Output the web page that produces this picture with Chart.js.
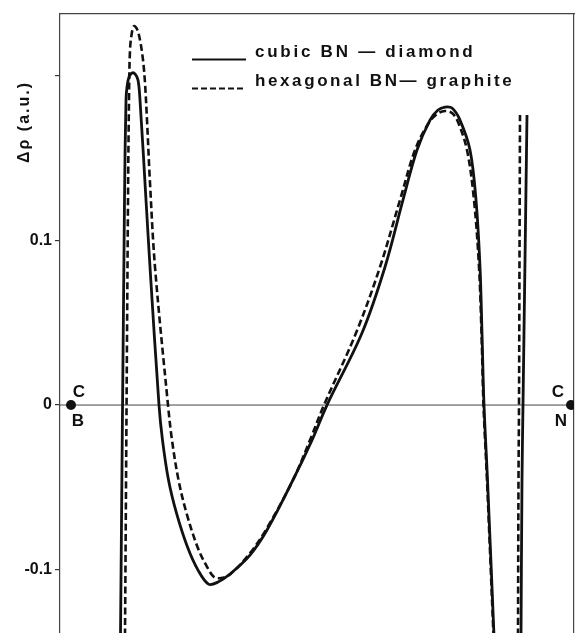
<!DOCTYPE html>
<html>
<head>
<meta charset="utf-8">
<script src="https://cdn.jsdelivr.net/npm/chart.js@4/dist/chart.umd.min.js"></script>
<style>
  html, body { margin: 0; padding: 0; background: #fff; }
  #wrap { width: 577px; height: 633px; }
</style>
</head>
<body>
<div id="wrap"><canvas id="c" width="577" height="633"></canvas></div>
<script>
// ---- data (x: position along the bond B ... N, 0 = B site, 1 = N site) ----
const cubicX = [0.099, 0.107, 0.110, 0.112, 0.116, 0.122, 0.128, 0.134, 0.138, 0.150, 0.158, 0.176, 0.183, 0.195, 0.211, 0.233, 0.254, 0.275, 0.294, 0.318, 0.358, 0.392, 0.444, 0.482, 0.512, 0.582, 0.628, 0.664, 0.692, 0.718, 0.734, 0.748, 0.762, 0.778, 0.798, 0.810, 0.818, 0.822, 0.826, 0.833, 0.846,
                0.870,
                0.900, 0.902, 0.904, 0.908, 0.912];
const cubicY = [-0.14, 0.1245, 0.1852, 0.1931, 0.1991, 0.2016, 0.2010, 0.1973, 0.1852, 0.1245, 0.0838, 0, -0.0213, -0.0455, -0.0656, -0.0862, -0.1002, -0.1087, -0.1075, -0.1026, -0.0911, -0.0759, -0.0455, -0.0213, 0, 0.0437, 0.0838, 0.1245, 0.1548, 0.1730, 0.1791, 0.1809, 0.1803, 0.1730, 0.1548, 0.1245, 0.0838, 0.0437, 0, -0.0455, -0.14,
                null,
                -0.14, -0.0455, 0, 0.088, 0.1761];
const hexX = [0.108, 0.114, 0.116, 0.118, 0.122, 0.126, 0.132, 0.138, 0.144, 0.148, 0.152, 0.158, 0.168, 0.194, 0.202, 0.215, 0.231, 0.253, 0.270, 0.286, 0.300, 0.318, 0.358, 0.392, 0.444, 0.478, 0.506, 0.570, 0.618, 0.658, 0.688, 0.714, 0.732, 0.748, 0.762, 0.774, 0.792, 0.806, 0.816, 0.821, 0.825, 0.832, 0.845,
              0.870,
              0.894, 0.895, 0.896, 0.897, 0.898];
const hexY = [-0.14, 0.1245, 0.1852, 0.2155, 0.2265, 0.2301, 0.2283, 0.2216, 0.2095, 0.1955, 0.1730, 0.1348, 0.0838, 0, -0.0213, -0.0455, -0.0656, -0.0862, -0.0971, -0.1044, -0.1050, -0.1029, -0.0899, -0.0747, -0.0455, -0.0213, 0, 0.0437, 0.0838, 0.1245, 0.1548, 0.1706, 0.1767, 0.1785, 0.1773, 0.1718, 0.1548, 0.1245, 0.0838, 0.0437, 0, -0.0455, -0.14,
              null,
              -0.14, -0.0455, 0, 0.088, 0.1761];
const seriesNames = ['cubic BN \u2014 diamond', 'hexagonal BN\u2014 graphite'];
const yTickValues = [-0.1, 0, 0.1, 0.2];
const yTickLabels = ['-0.1', '0', '0.1', ''];
const yTitle = '\u0394\u03c1 (a.u.)';
const atomPositions = [0, 1];
const atomUpper = ['C', 'C'];
const atomLower = ['B', 'N'];
const baseLineX = [-0.022, 1];

// ---- build ----
const zip = (xs, ys) => xs.map((x, i) => ({ x: x, y: ys[i] }));
const FONT = '"Liberation Sans", Arial, sans-serif';

const decorations = {
  id: 'decorations',
  afterDraw(chart) {
    const ctx = chart.ctx;
    const xs = chart.scales.x, ys = chart.scales.y;
    ctx.save();
    ctx.fillStyle = '#111';
    ctx.strokeStyle = '#111';

    // y-axis title (rotated)
    ctx.save();
    ctx.font = 'bold 16px ' + FONT;
    ctx.letterSpacing = '2px';
    ctx.translate(25, 122);
    ctx.rotate(-Math.PI / 2);
    ctx.textAlign = 'center';
    ctx.textBaseline = 'middle';
    ctx.fillText(yTitle, 0, 0);
    ctx.restore();

    // atom labels
    ctx.font = 'bold 17px ' + FONT;
    ctx.letterSpacing = '0px';
    ctx.textAlign = 'center';
    ctx.textBaseline = 'alphabetic';
    const y0 = ys.getPixelForValue(0);
    atomPositions.forEach((p, i) => {
      const px = xs.getPixelForValue(p);
      const dxU = i === 0 ? 8 : -13;
      const dxL = i === 0 ? 7 : -10;
      ctx.fillText(atomUpper[i], px + dxU, y0 - 8);
      ctx.fillText(atomLower[i], px + dxL, y0 + 21);
    });

    // legend
    ctx.lineWidth = 2;
    ctx.setLineDash([]);
    ctx.beginPath(); ctx.moveTo(192, 59.5); ctx.lineTo(246, 59.5); ctx.stroke();
    ctx.setLineDash([6, 3]);
    ctx.beginPath(); ctx.moveTo(192, 88.5); ctx.lineTo(246, 88.5); ctx.stroke();
    ctx.setLineDash([]);
    ctx.font = 'bold 17px ' + FONT;
    ctx.textAlign = 'left';
    ctx.letterSpacing = '2.75px';
    ctx.fillText(seriesNames[0], 255, 57);
    ctx.letterSpacing = '2.6px';
    ctx.fillText(seriesNames[1], 255, 86);
    ctx.restore();
  }
};

new Chart(document.getElementById('c'), {
  type: 'line',
  data: {
    datasets: [
      {
        label: 'sites',
        data: atomPositions.map(p => ({ x: p, y: 0 })),
        showLine: false,
        pointRadius: 5,
        pointBackgroundColor: '#111',
        pointBorderColor: '#111',
        pointBorderWidth: 0,
        order: 0
      },
      {
        label: seriesNames[0],
        data: zip(cubicX, cubicY),
        borderColor: '#111',
        borderWidth: 2.8,
        pointRadius: 0,
        tension: 0.35,
        spanGaps: false,
        fill: false,
        order: 1
      },
      {
        label: seriesNames[1],
        data: zip(hexX, hexY),
        borderColor: '#111',
        borderWidth: 2.6,
        borderDash: [7, 3.5],
        pointRadius: 0,
        tension: 0.35,
        spanGaps: false,
        fill: false,
        order: 2
      },
      {
        label: 'baseline',
        data: baseLineX.map(x => ({ x: x, y: 0 })),
        borderColor: '#444',
        borderWidth: 1,
        pointRadius: 0,
        order: 3
      }
    ]
  },
  options: {
    responsive: false,
    devicePixelRatio: 1,
    animation: false,
    events: [],
    layout: { autoPadding: false, padding: { top: 14, right: 3, left: 0, bottom: 0 } },
    plugins: { legend: { display: false }, tooltip: { enabled: false } },
    scales: {
      x: {
        type: 'linear',
        position: 'top',
        min: -0.022,
        max: 1.006,
        ticks: { display: false },
        grid: { display: false },
        border: { display: true, color: '#444', width: 1.2 },
        afterFit(s) { s.height = 0; s.paddingLeft = 0; s.paddingRight = 0; s.paddingTop = 0; s.paddingBottom = 0; }
      },
      y: {
        type: 'linear',
        position: 'left',
        min: -0.1384,
        max: 0.2374,
        afterBuildTicks(s) { s.ticks = yTickValues.map(v => ({ value: v })); },
        ticks: {
          autoSkip: false,
          padding: 3,
          color: '#111',
          font: { family: FONT, size: 16, weight: 'bold' },
          callback: (v, i) => yTickLabels[i]
        },
        grid: { drawOnChartArea: false, drawTicks: true, tickLength: 5, color: '#333', lineWidth: 1.2 },
        border: { display: true, color: '#444', width: 1.2 },
        afterFit(s) { s.width = 60; s.paddingTop = 0; s.paddingBottom = 0; }
      },
      yRight: {
        type: 'linear',
        position: 'right',
        min: -0.1384,
        max: 0.2374,
        ticks: { display: false },
        grid: { display: false },
        border: { display: true, color: '#444', width: 1.2 },
        afterFit(s) { s.width = 0; s.paddingTop = 0; s.paddingBottom = 0; }
      }
    }
  },
  plugins: [decorations]
});
</script>
</body>
</html>
